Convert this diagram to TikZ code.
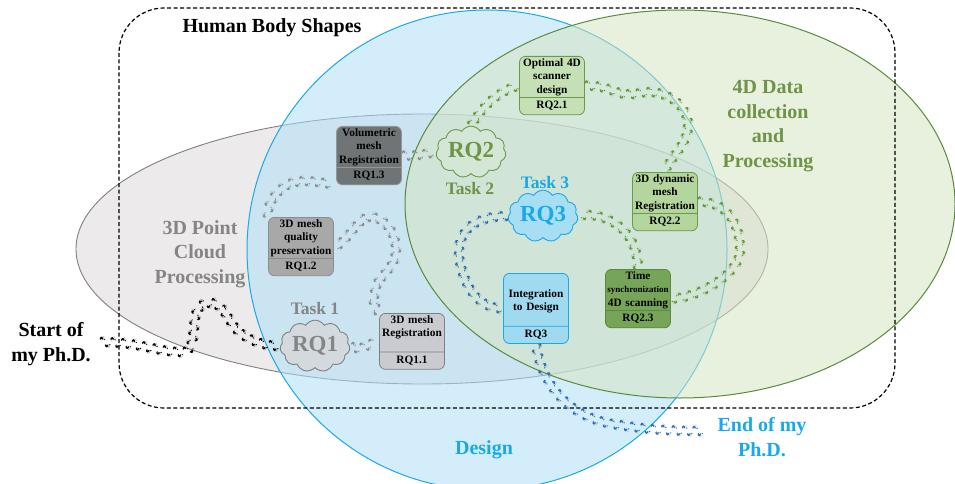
\documentclass[tikz,border=0pt]{standalone}
\usepackage{fontspec}
\setmainfont{Liberation Serif}
\usetikzlibrary{shapes,positioning,calc,decorations.footprints}

\definecolor{designblue}{HTML}{1AA9E8}
\definecolor{dataGreen}{HTML}{6E9447}
\definecolor{cloudGrey}{HTML}{858585}
\definecolor{walkGrey}{HTML}{8A8A8A}
\definecolor{walkGreen}{HTML}{5E9A33}
\definecolor{walkBlue}{HTML}{2F6DAD}
\definecolor{pcpFill}{HTML}{DCD8DA}
\definecolor{pcpLine}{HTML}{808080}
\definecolor{dsgFill}{HTML}{AEE0F6}
\definecolor{ddpFill}{HTML}{D6E4C3}
\definecolor{ddpLine}{HTML}{5A8A3C}
\definecolor{boxLine}{HTML}{6B9A4A}

\tikzset{
  rqbox/.style={rectangle split, rectangle split parts=2, draw, rounded corners=6pt,
    line width=0.8pt, text width=62pt, align=center, inner sep=1.5pt, anchor=north,
    font=\bfseries\fontsize{11.3}{13.5}\selectfont},
  rqcloud/.style={cloud, cloud puffs=11, cloud puff arc=115, aspect=1.5, draw, line width=0.9pt,
    minimum width=70pt, minimum height=47pt, inner sep=0pt,
    font=\bfseries\fontsize{23}{25}\selectfont},
  walk/.style={decorate, decoration={footprints, foot of=gnome, foot length=5.5pt,
    stride length=10.5pt, foot sep=2pt, foot angle=10}, fill=#1},
  lbl/.style={font=\bfseries\fontsize{20}{24.5}\selectfont, align=center},
  tasklbl/.style={font=\bfseries\fontsize{17.5}{20}\selectfont},
}

\begin{document}
\begin{tikzpicture}[x=1pt, y=-1pt]
    \useasboundingbox (0,0) rectangle (955,484);

    % research areas
    \fill[pcpFill, fill opacity=0.55] (422,249) ellipse [x radius=346, y radius=135];
    \draw[line width=0.9pt, pcpLine] (422,249) ellipse [x radius=346, y radius=135];
    \fill[dsgFill, fill opacity=0.55] (487,250) circle (240);
    \draw[line width=1pt, designblue] (487,250) circle (240);
    \fill[ddpFill, fill opacity=0.55] (680,204) ellipse [x radius=275, y radius=194];
    \draw[line width=1pt, ddpLine] (680,204) ellipse [x radius=275, y radius=194];
    \draw[line width=1.2pt, dash pattern=on 4pt off 2.5pt, rounded corners=45pt] (119,8) rectangle (895,408);

    % area labels
    \node[lbl] (hbs) at (272,28) {Human Body Shapes};
    \node[lbl, cloudGrey] (pcp) at (200,254) {3D Point\\Cloud\\Processing};
    \node[lbl, dataGreen] (ddp) at (768,126) {4D Data\\collection\\and\\Processing};
    \node[lbl, designblue] (dsg) at (484,450) {Design};
    \node[lbl, designblue] (finishlbl) at (762,437) {End of my\\Ph.D.};
    \node[lbl] (startlbl) at (51,344) {Start of\\my Ph.D.};

    % tasks
    \node[rqcloud, fill={rgb,255:red,211;green,217;blue,220}, draw=gray, text=cloudGrey] (rq1) at (315,346) {RQ1};
    \node[rqcloud, fill={rgb,255:red,212;green,230;blue,214}, draw=boxLine, text=dataGreen] (rq2) at (471,152) {RQ2};
    \node[rqcloud, fill={rgb,255:red,167;green,222;blue,243}, draw=designblue, text=designblue] (rq3) at (543,216) {RQ3};
    \node[tasklbl, cloudGrey] (task1) at (315,309) {Task 1};
    \node[tasklbl, dataGreen] (task2) at (470,189) {Task 2};
    \node[tasklbl, designblue] (task3) at (545,183) {Task 3};

    % research questions
    \node[rqbox, fill={rgb,255:red,111;green,117;blue,118}, draw={rgb,255:red,150;green,150;blue,150}] (rq13) at (369,126)
        {Volumetric\\mesh\\Registration \nodepart{two} \strut RQ1.3};
    \node[rqbox, fill={rgb,255:red,168;green,168;blue,168}, draw={rgb,255:red,140;green,140;blue,140}] (rq12) at (301,217)
        {3D mesh\\quality\\preservation \nodepart{two} \strut RQ1.2};
    \node[rqbox, fill={rgb,255:red,201;green,203;blue,208}, draw={rgb,255:red,128;green,128;blue,128}] (rq11) at (412,313)
        {3D mesh\\Registration\\\mbox{} \nodepart{two} \strut RQ1.1};
    \node[rqbox, fill={rgb,255:red,197;green,224;blue,180}, draw=boxLine] (rq21) at (552,56)
        {Optimal 4D\\scanner\\design \nodepart{two} \strut RQ2.1};
    \node[rqbox, fill={rgb,255:red,180;green,214;blue,158}, draw=boxLine] (rq22) at (665,172)
        {3D dynamic\\mesh\\Registration \nodepart{two} \strut RQ2.2};
    \node[rqbox, fill={rgb,255:red,118;green,165;blue,90}, draw={rgb,255:red,90;green,138;blue,62}] (rq23) at (638,269)
        {Time\\{\fontsize{9}{13.5}\selectfont synchronization}\\4D scanning \nodepart{two} \strut RQ2.3};
    \node[rqbox, fill={rgb,255:red,160;green,218;blue,240}, draw=designblue] (rq3b) at (536,273)
        {\rule{0pt}{22pt}Integration\\to Design\rule[-13.5pt]{0pt}{13.5pt} \nodepart{two} \strut RQ3};

    % journey
    \coordinate (start) at (100,342);
    \coordinate (finish) at (706,431);
    \fill[walk=black] (start) .. controls +(40,0) and +(-25,0) .. (182,352)
        .. controls +(12,0) and +(-2,15) .. (195,318) .. controls +(2,-10) and +(-8,0) .. (210,303)
        .. controls +(10,0) and +(-8,-12) .. (233,325) .. controls +(8,12) and +(-20,0) .. (rq1.west);
    \fill[walk=walkGrey] (rq1.east) .. controls +(12,6) and +(-12,2) .. (rq11.west);
    \fill[walk=walkGrey] (rq11.north west) .. controls +(-8,-12) and +(-2,12) .. (376,287)
        .. controls +(2,-10) and +(0,18) .. (396,250) .. controls +(0,-20) and +(12,0) .. (370,217)
        .. controls +(-12,0) and +(12,-2) .. (rq12.east);
    \fill[walk=walkGrey] (rq12.north west) .. controls +(-2,-15) and +(-12,4) .. (292,183)
        .. controls +(12,-4) and +(-15,-3) .. (rq13.south west);
    \fill[walk=walkGrey] (rq13.east) .. controls +(15,0) and +(-15,3) .. (rq2.west);
    \fill[walk=walkGreen] (rq2.north) .. controls +(12,-20) and +(-20,5) .. (rq21.west);
    \fill[walk=walkGreen] (rq21.east) .. controls +(30,0) and +(-25,5) .. (640,93)
        .. controls +(25,-5) and +(0,-20) .. (688,125) .. controls +(0,20) and +(5,-15) .. (rq22.north);
    \fill[walk=walkGreen] (rq22.east) .. controls +(30,0) and +(0,-25) .. (740,250)
        .. controls +(0,25) and +(25,0) .. (rq23.east);
    \fill[walk=walkGreen] (rq23.north) .. controls +(0,-45) and +(20,-5) .. (rq3.east);
    \fill[walk=walkBlue] (rq3.west) .. controls +(-40,0) and +(-5,-25) .. (460,262)
        .. controls +(5,25) and +(-25,0) .. (rq3b.west);
    \fill[walk=walkBlue] (rq3b.south) .. controls +(5,40) and +(-50,-5) .. (620,425)
        .. controls +(30,5) and +(-30,0) .. (finish);
\end{tikzpicture}
\end{document}
